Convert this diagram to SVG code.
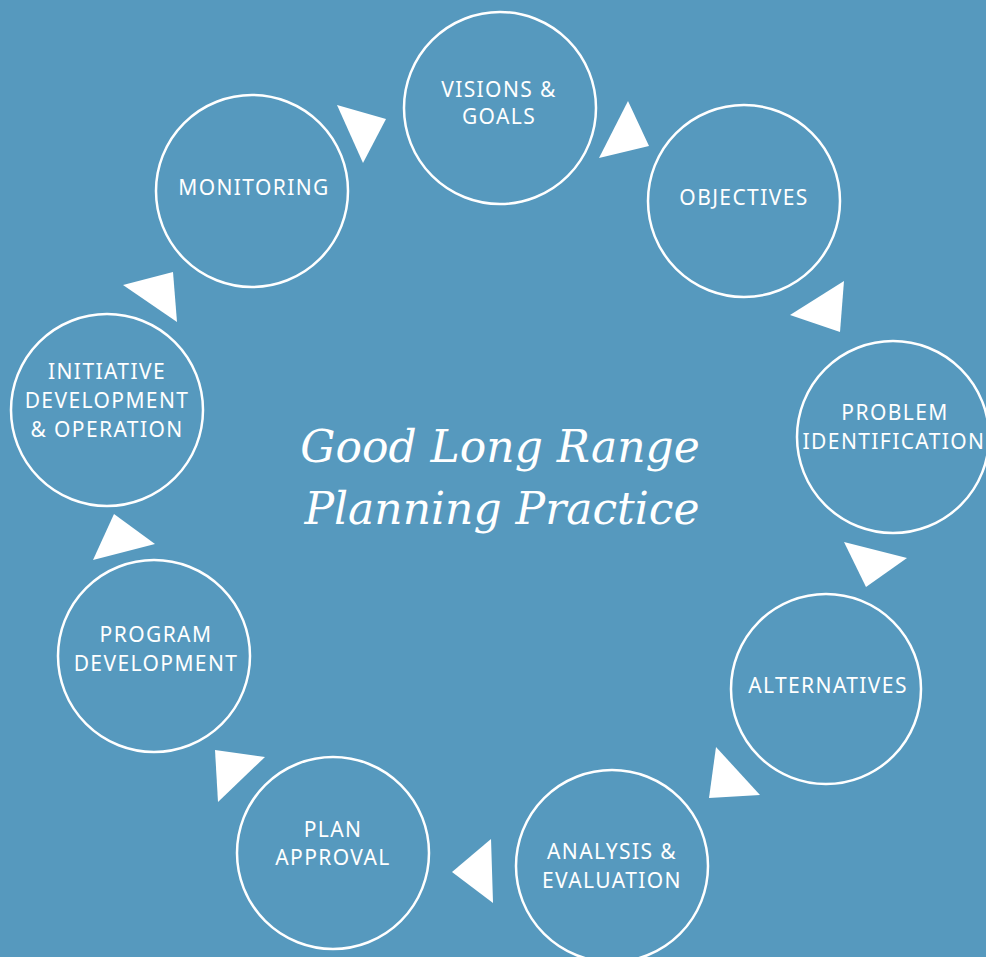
<svg xmlns="http://www.w3.org/2000/svg" width="986" height="957" viewBox="0 0 986 957">
<style>
.bg{fill:#5699BE}
.node circle{fill:none;stroke:#fff;stroke-width:2.5}
.node text{fill:#fff;font-family:"Noto Sans","Open Sans",sans-serif;font-size:21px;letter-spacing:1.4px;text-anchor:middle}
.arr polygon{fill:#fff}
.title{fill:#fff;font-family:"DejaVu Serif","Liberation Serif",serif;font-style:italic;font-size:44px;text-anchor:middle}
</style>
<rect class="bg" x="0" y="0" width="986" height="957"/>
<g id="connectors" class="arr">
<polygon points="337,105 386,119 363,163"/>
<polygon points="628,101 649,146 599,158"/>
<polygon points="844,281 790,315 840,332"/>
<polygon points="844,542 907,558 866,587"/>
<polygon points="716,747 760,795 709,798"/>
<polygon points="491,839 452,872 493,903"/>
<polygon points="215,750 265,757 218,802"/>
<polygon points="114,514 155,544 93,560"/>
<polygon points="173,272 123,285 177,322"/>
</g>
<g id="visions" class="node"><circle cx="500" cy="108" r="96"/><text x="499" y="97">VISIONS &amp;</text><text x="499" y="124">GOALS</text></g>
<g id="objectives" class="node"><circle cx="744" cy="201" r="96"/><text x="744" y="205">OBJECTIVES</text></g>
<g id="problem" class="node"><circle cx="893" cy="437" r="96"/><text x="895" y="420">PROBLEM</text><text x="894" y="449">IDENTIFICATION</text></g>
<g id="alternatives" class="node"><circle cx="826" cy="689" r="95"/><text x="828" y="693">ALTERNATIVES</text></g>
<g id="analysis" class="node"><circle cx="612" cy="866" r="96"/><text x="612" y="859">ANALYSIS &amp;</text><text x="612" y="888">EVALUATION</text></g>
<g id="plan" class="node"><circle cx="333" cy="853" r="96"/><text x="333" y="837">PLAN</text><text x="333" y="865">APPROVAL</text></g>
<g id="program" class="node"><circle cx="154" cy="656" r="96"/><text x="156" y="642">PROGRAM</text><text x="156" y="671">DEVELOPMENT</text></g>
<g id="initiative" class="node"><circle cx="107" cy="410" r="96"/><text x="107" y="379">INITIATIVE</text><text x="107" y="408">DEVELOPMENT</text><text x="107" y="437">&amp; OPERATION</text></g>
<g id="monitoring" class="node"><circle cx="252" cy="191" r="96"/><text x="254" y="195">MONITORING</text></g>
<g id="title"><text class="title" x="500" y="462">Good Long Range</text><text class="title" x="502" y="524">Planning Practice</text></g>
</svg>
